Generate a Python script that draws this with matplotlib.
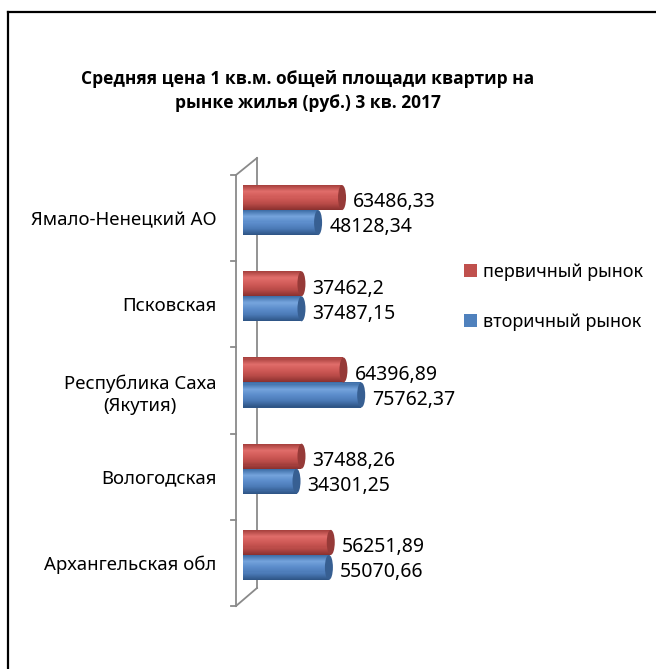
import numpy as np
import matplotlib.pyplot as plt
from matplotlib.colors import LinearSegmentedColormap
from matplotlib.patches import Ellipse, Patch
from matplotlib.lines import Line2D

plt.rcParams['font.family'] = ['Noto Sans', 'DejaVu Sans']

# Data
regions = ['Ямало-Ненецкий АО', 'Псковская', 'Республика Саха\n(Якутия)',
           'Вологодская', 'Архангельская обл']
primary = [63486.33, 37462.2, 64396.89, 37488.26, 56251.89]      # первичный рынок
secondary = [48128.34, 37487.15, 75762.37, 34301.25, 55070.66]   # вторичный рынок
series_names = ['первичный рынок', 'вторичный рынок']
title = 'Средняя цена 1 кв.м. общей площади квартир на\nрынке жилья (руб.) 3 кв. 2017'

W, H = 656, 669
px_per_unit = 0.00156


def fx(x):
    return x / W


def fy(y):
    return 1 - y / H


def fmt(v):
    return f'{v:.2f}'.rstrip('0').rstrip('.').replace('.', ',')


fig = plt.figure(figsize=(W / 100, H / 100), dpi=100)
ax = fig.add_axes([fx(243), fy(606), (W - 243) / W, (606 - 175) / H])
ax.set_xlim(0, (W - 243) / px_per_unit)
ax.set_ylim(len(regions) - 0.5, -0.5)
for s in ax.spines.values():
    s.set_visible(False)
ax.set_xticks([])
ax.set_yticks(range(len(regions)), regions, fontsize=13.4)
ax.tick_params(axis='y', length=0, pad=19)
for lbl in ax.get_yticklabels():
    lbl.set_multialignment('center')
    lbl.set_linespacing(1.3)

h = 0.29
shift = 0.093
cap_w = 8 / px_per_unit
y = np.arange(len(regions))

red_map = LinearSegmentedColormap.from_list('r', ['#a9423f', '#e06d6a', '#d05a57', '#b84a47', '#8c3230'])
blue_map = LinearSegmentedColormap.from_list('b', ['#3f6fa8', '#74a3dc', '#5b8ccb', '#4a79b5', '#2f5687'])


def cylinder(yc, vals, cmap, cap_color):
    n = 24
    edges = np.linspace(-h / 2, h / 2, n + 1)
    for k in range(n):
        ax.barh(yc + (edges[k] + edges[k + 1]) / 2, vals, height=h / n * 1.1,
                color=cmap(k / (n - 1)), linewidth=0, zorder=3)
    for yy, v in zip(yc, vals):
        ax.add_patch(Ellipse((v, yy), cap_w, h, facecolor=cap_color,
                             edgecolor='none', zorder=4))
        ax.annotate(fmt(v), (v, yy), xytext=(8, -3.5), textcoords='offset points',
                    va='center', ha='left', fontsize=14, zorder=5)


cylinder(y - shift - h / 2, primary, red_map, '#963a38')
cylinder(y - shift + h / 2, secondary, blue_map, '#375f92')

# 3D wall on the left
wall = '#8a8a8a'
segs = [((236, 175), (236, 606)), ((257, 158), (257, 588)),
        ((236, 175), (257, 158)), ((236, 606), (257, 588))]
for yt in np.linspace(175, 606, len(regions) + 1):
    segs.append(((231, yt), (236, yt)))
for (x0, y0), (x1, y1) in segs:
    ax.add_line(Line2D([fx(x0), fx(x1)], [fy(y0), fy(y1)], transform=fig.transFigure,
                       color=wall, lw=1.3, clip_on=False, zorder=1))

# outer frame (top and left only visible)
fig.add_artist(Line2D([fx(8), 1], [fy(12), fy(12)], color='black', lw=1.6))
fig.add_artist(Line2D([fx(8), fx(8)], [fy(12), 0], color='black', lw=1.6))

fig.text(fx(308), fy(91), title, ha='center', va='center', fontsize=12.5,
         fontweight='bold', family=['Open Sans', 'DejaVu Sans'], linespacing=1.45)

handles = [Patch(facecolor='#c0504d'), Patch(facecolor='#4f81bd')]
fig.legend(handles, series_names, loc='upper left', bbox_to_anchor=(fx(455), fy(254)),
           frameon=False, fontsize=13, handlelength=0.7, handleheight=0.7,
           handletextpad=0.35, labelspacing=1.75, borderpad=0)

fig.savefig('out.png', dpi=100)
